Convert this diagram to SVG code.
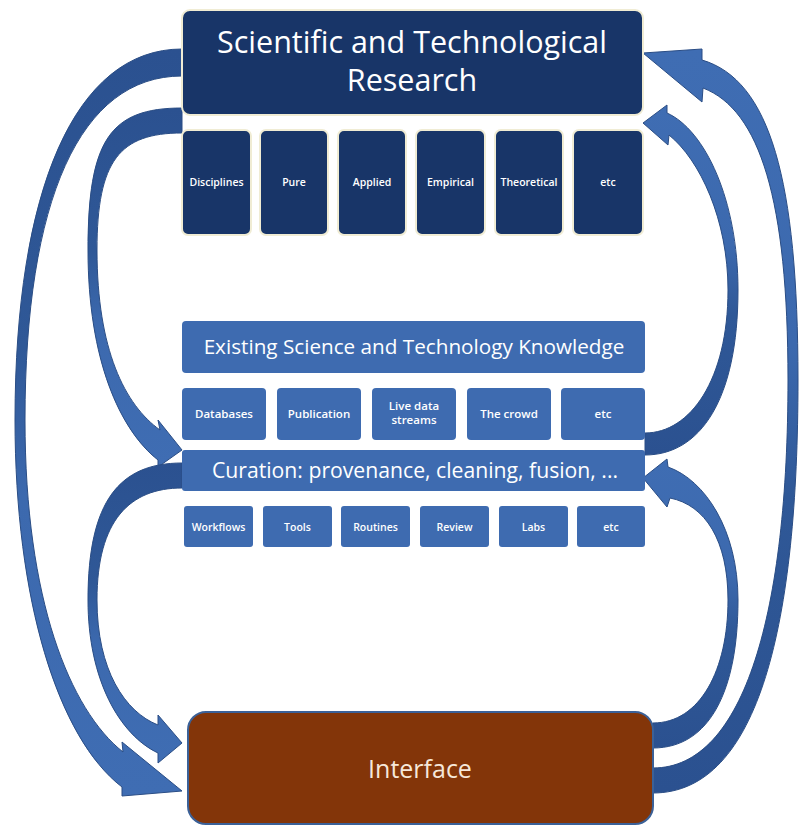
<svg xmlns="http://www.w3.org/2000/svg" width="799" height="827" viewBox="0 0 799 827">
<defs>
<linearGradient id="gDown" x1="0" y1="0" x2="0" y2="1">
<stop offset="0" stop-color="#2b5190"/>
<stop offset="0.4" stop-color="#2f5897"/>
<stop offset="0.6" stop-color="#3c69ae"/>
<stop offset="1" stop-color="#3f6db3"/>
</linearGradient>
<linearGradient id="gUp" x1="0" y1="1" x2="0" y2="0">
<stop offset="0" stop-color="#2b5190"/>
<stop offset="0.4" stop-color="#2f5897"/>
<stop offset="0.6" stop-color="#3c69ae"/>
<stop offset="1" stop-color="#3f6db3"/>
</linearGradient>
<style>
.arr{stroke:#2a4d85;stroke-width:1;stroke-linejoin:round}
.navy{fill:#183568;stroke:#f0ecd4;stroke-width:2}
.blue{fill:#3e6bb0}
.t{font-family:"Open Sans","Liberation Sans",Arial,sans-serif;fill:#ffffff;text-anchor:middle}
.big{font-size:30.5px}
.mid{font-size:20.7px}
.cur{font-size:21.2px}
.sm{font-size:10.5px;font-weight:600}
.sm2{font-size:11.5px;font-weight:600}
</style>
</defs>
<rect width="799" height="827" fill="#ffffff"/>
<g id="connectors">
<path class="arr" fill="url(#gDown)" d="M182,49 C75,49 15,190 15,420 C15,600 58,738 122,787 L122,796 L182,791 L122,742 L123,752 C70,710 25,600 25,420 C25,200 80,76 182,76 Z"/>
<path class="arr" fill="url(#gDown)" d="M182,108 C110,108 88,140 88,250 C88,360 120,430 158,460 L158,467 L182,450 L158,420 L160,430 C125,405 97,350 97,250 C97,160 120,133 182,133 Z"/>
<path class="arr" fill="url(#gDown)" d="M182,463 C120,463 88,500 88,600 C88,680 120,735 158,753 L158,763 L182,743 L158,715 L158,725 C125,712 97,670 97,600 C97,520 130,488 182,488 Z"/>
<path class="arr" fill="url(#gUp)" d="M645,455 C700,455 738,400 738,290 C738,200 705,130 667,113 L667,105 L643,123 L668,145 L669,135 C700,160 728,220 728,290 C728,380 690,433 645,433 Z"/>
<path class="arr" fill="url(#gUp)" d="M653,793 C760,793 798,620 798,380 C798,180 770,80 702,60 L702,49 L643,53 L702,102 L703,88 C760,110 788,200 788,380 C788,610 745,768 653,768 Z"/>
<path class="arr" fill="url(#gUp)" d="M653,748 C710,748 738,690 738,600 C738,530 705,480 668,467 L667,459 L643,478 L667,507 L670,498 C705,505 728,540 728,600 C728,670 700,723 653,723 Z"/>
</g>
<g id="research">
<rect class="navy" x="182" y="10" width="461" height="105" rx="8"/>
<text class="t big" x="412" y="53">Scientific and Technological</text>
<text class="t big" x="412" y="91">Research</text>
</g>
<g id="disciplines"><rect class="navy" x="182" y="130" width="69" height="105" rx="6"/><text class="t sm" x="216.5" y="186">Disciplines</text></g>
<g id="pure"><rect class="navy" x="260" y="130" width="68" height="105" rx="6"/><text class="t sm" x="294" y="186">Pure</text></g>
<g id="applied"><rect class="navy" x="338" y="130" width="68" height="105" rx="6"/><text class="t sm" x="372" y="186">Applied</text></g>
<g id="empirical"><rect class="navy" x="416" y="130" width="69" height="105" rx="6"/><text class="t sm" x="450.5" y="186">Empirical</text></g>
<g id="theoretical"><rect class="navy" x="495" y="130" width="68" height="105" rx="6"/><text class="t sm" x="529" y="186">Theoretical</text></g>
<g id="etc1"><rect class="navy" x="573" y="130" width="70" height="105" rx="6"/><text class="t sm" x="608" y="186">etc</text></g>
<g id="existing">
<rect class="blue" x="182" y="321" width="463" height="52" rx="4"/>
<text class="t mid" x="414" y="354">Existing Science and Technology Knowledge</text>
</g>
<g id="databases"><rect class="blue" x="182" y="388" width="84" height="52" rx="4"/><text class="t sm2" x="224" y="418">Databases</text></g>
<g id="publication"><rect class="blue" x="277" y="388" width="84" height="52" rx="4"/><text class="t sm2" x="319" y="418">Publication</text></g>
<g id="livedata"><rect class="blue" x="372" y="388" width="84" height="52" rx="4"/><text class="t sm2" x="414" y="410">Live data</text><text class="t sm2" x="414" y="424">streams</text></g>
<g id="crowd"><rect class="blue" x="467" y="388" width="84" height="52" rx="4"/><text class="t sm2" x="509" y="418">The crowd</text></g>
<g id="etc2"><rect class="blue" x="561" y="388" width="84" height="52" rx="4"/><text class="t sm2" x="603" y="418">etc</text></g>
<g id="curation">
<rect class="blue" x="182" y="450" width="463" height="41" rx="3"/>
<text class="t cur" x="415" y="478">Curation: provenance, cleaning, fusion, ...</text>
</g>
<g id="workflows"><rect class="blue" x="184" y="506" width="69" height="41" rx="3"/><text class="t sm" x="218.5" y="531">Workflows</text></g>
<g id="tools"><rect class="blue" x="263" y="506" width="69" height="41" rx="3"/><text class="t sm" x="297.5" y="531">Tools</text></g>
<g id="routines"><rect class="blue" x="341" y="506" width="69" height="41" rx="3"/><text class="t sm" x="375.5" y="531">Routines</text></g>
<g id="review"><rect class="blue" x="420" y="506" width="69" height="41" rx="3"/><text class="t sm" x="454.5" y="531">Review</text></g>
<g id="labs"><rect class="blue" x="499" y="506" width="69" height="41" rx="3"/><text class="t sm" x="533.5" y="531">Labs</text></g>
<g id="etc3"><rect class="blue" x="577" y="506" width="68" height="41" rx="3"/><text class="t sm" x="611" y="531">etc</text></g>
<g id="interface">
<rect x="188" y="712" width="465" height="112" rx="18" fill="#833509" stroke="#3b6198" stroke-width="2"/>
<text class="t" x="420" y="778" style="font-size:25px;fill:#f6e8da">Interface</text>
</g>
</svg>
